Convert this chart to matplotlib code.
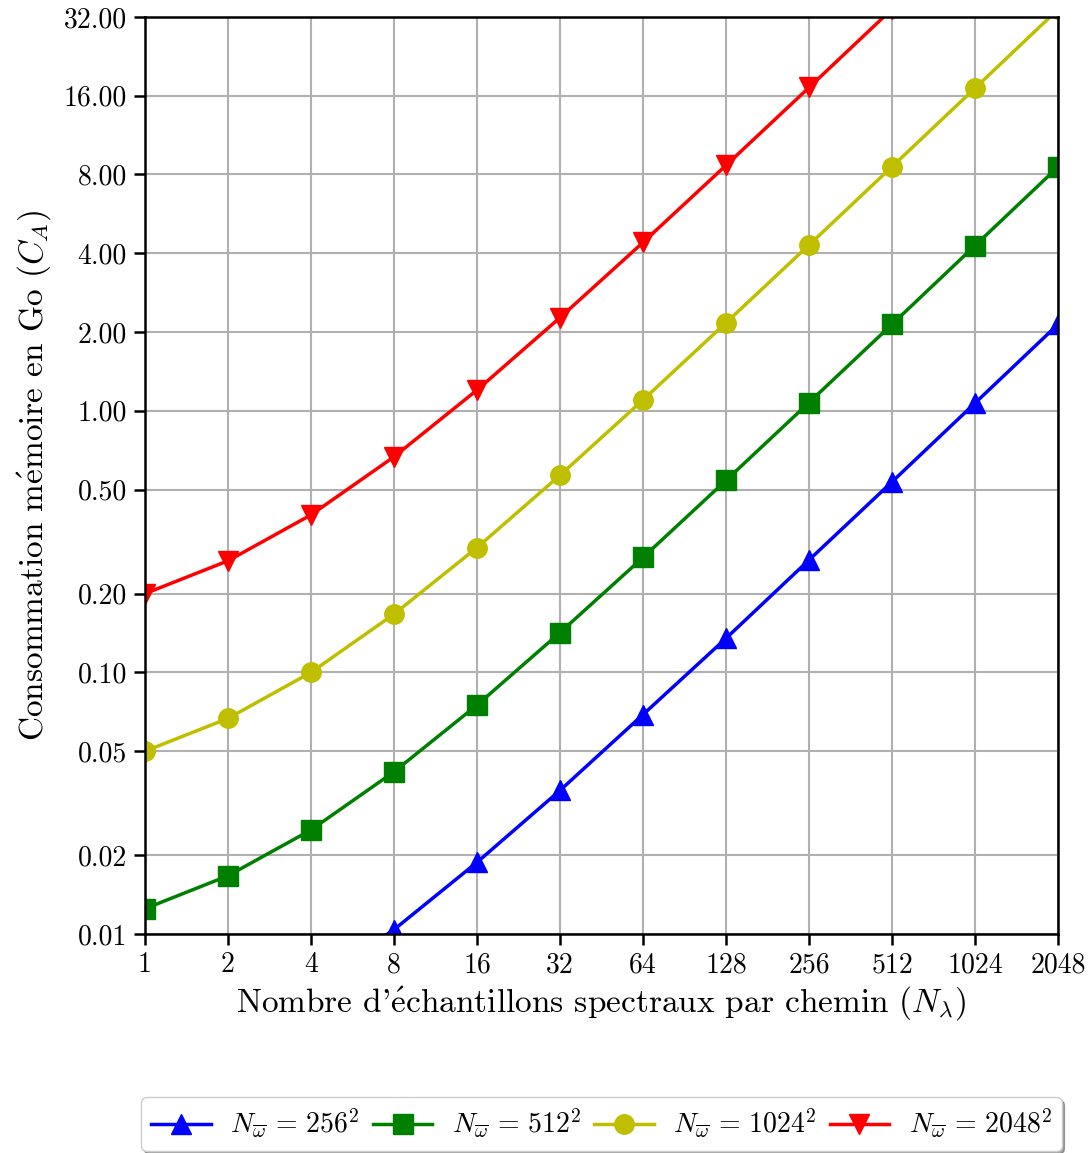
import matplotlib
matplotlib.use("Agg")
import matplotlib.pyplot as plt
from matplotlib.ticker import FixedLocator, FuncFormatter, NullLocator

plt.rcParams["font.family"] = ["cmr10", "DejaVu Serif"]
plt.rcParams["mathtext.fontset"] = "cm"
plt.rcParams["axes.unicode_minus"] = False
plt.rcParams["axes.formatter.use_mathtext"] = True

# Nombre d'échantillons spectraux par chemin
n_lambda = [1, 2, 4, 8, 16, 32, 64, 128, 256, 512, 1024, 2048]

# Consommation mémoire (Go) pour chaque résolution
mem_256 = [0.0031, 0.0042, 0.0063, 0.0104, 0.0188, 0.0354, 0.069, 0.135, 0.269, 0.535, 1.07, 2.14]
mem_512 = [0.0125, 0.0167, 0.025, 0.0417, 0.075, 0.142, 0.275, 0.542, 1.075, 2.14, 4.28, 8.55]
mem_1024 = [0.05, 0.0667, 0.1, 0.167, 0.3, 0.567, 1.1, 2.17, 4.3, 8.57, 17.1, 34.2]
mem_2048 = [0.2, 0.267, 0.4, 0.667, 1.2, 2.27, 4.4, 8.67, 17.2, 34.3, 68.5, 137.0]

series_labels = [r"$N_{\overline{\omega}}\,=\,256^2$", r"$N_{\overline{\omega}}\,=\,512^2$",
                 r"$N_{\overline{\omega}}\,=\,1024^2$", r"$N_{\overline{\omega}}\,=\,2048^2$"]
y_ticks = [0.01, 0.02, 0.05, 0.1, 0.2, 0.5, 1, 2, 4, 8, 16, 32]

fig = plt.figure(figsize=(10.91, 11.53), dpi=100)
ax = fig.add_axes([0.1329, 0.1899, 0.8369, 0.7954])

styles = [("b", "^"), ("g", "s"), ("y", "o"), ("r", "v")]
for vals, (c, m), lab in zip([mem_256, mem_512, mem_1024, mem_2048], styles, series_labels):
    ax.plot(n_lambda, vals, color=c, marker=m, markersize=14, linewidth=2.5, label=lab)

ax.set_xscale("log", base=2)
ax.set_yscale("log")
ax.set_xlim(1, 2048)
ax.set_ylim(0.01, 32)

ax.xaxis.set_major_locator(FixedLocator(n_lambda))
ax.xaxis.set_major_formatter(FuncFormatter(lambda v, p: f"{int(round(v))}"))
ax.xaxis.set_minor_locator(NullLocator())
ax.yaxis.set_major_locator(FixedLocator(y_ticks))
ax.yaxis.set_major_formatter(FuncFormatter(lambda v, p: f"{v:.2f}"))
ax.yaxis.set_minor_locator(NullLocator())

ax.grid(True, color="#b0b0b0", linewidth=1.5)
ax.set_axisbelow(True)
for s in ax.spines.values():
    s.set_linewidth(1.8)
ax.tick_params(axis="both", which="major", labelsize=20, length=8, width=1.8,
               direction="out", pad=5)

ax.set_xlabel(r"Nombre d'$\mathrm{\acute{e}}$chantillons spectraux par chemin ($N_\lambda$)",
              fontsize=24, labelpad=4)
ax.set_ylabel(r"Consommation m$\mathrm{\acute{e}}$moire en Go ($C_A$)", fontsize=24, labelpad=8)

ax.legend(loc="upper center", bbox_to_anchor=(0.5, -0.163), ncol=4, fontsize=20,
          shadow=True, framealpha=1, edgecolor="#cccccc", handlelength=2.15,
          columnspacing=0.47, handletextpad=0.7, borderpad=0.35, borderaxespad=0.5)

fig.savefig("out.png", dpi=100)
